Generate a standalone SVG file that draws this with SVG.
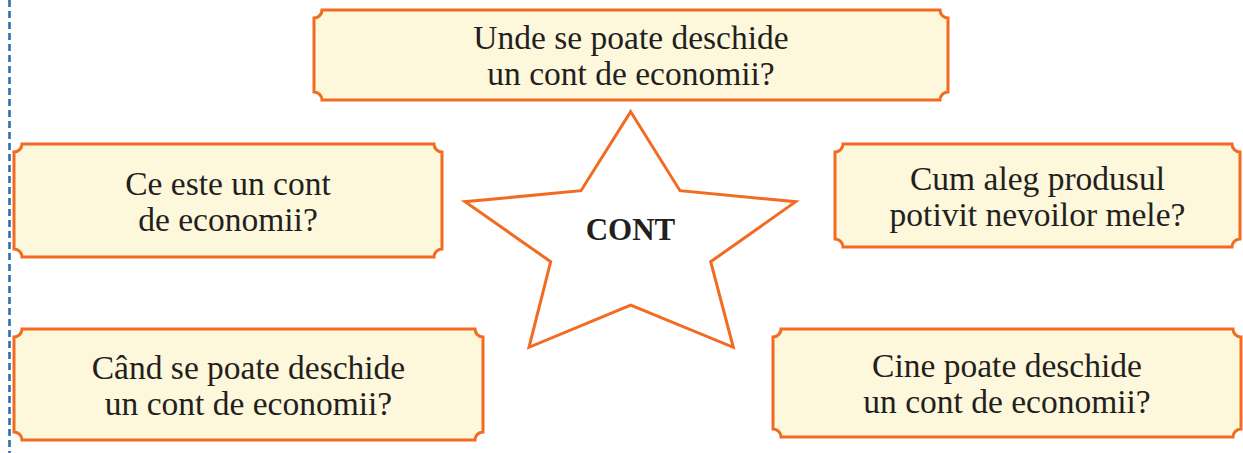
<svg xmlns="http://www.w3.org/2000/svg" width="1243" height="453" viewBox="0 0 1243 453">
<style>
.box{fill:#FDF7DB;stroke:#F26B21;stroke-width:3}
.star{fill:#FFFFFF;stroke:#F26B21;stroke-width:3;stroke-linejoin:miter}
.t{font-family:"Liberation Serif","Times New Roman",serif;font-size:33.5px;fill:#231F20;text-anchor:middle}
.c{font-family:"Liberation Serif","Times New Roman",serif;font-size:31px;font-weight:bold;fill:#231F20;text-anchor:middle}
.dash{stroke:#2C6FAE;stroke-width:2.6;stroke-dasharray:7 4;fill:none}
</style>
<rect width="1243" height="453" fill="#FFFFFF"/>
<line class="dash" x1="9.5" y1="0" x2="9.5" y2="453"/>
<g id="connectors"/>
<g id="node-top">
<path class="box" d="M322,10 H940 A8,8 0 0 0 948,18 V92 A8,8 0 0 0 940,100 H322 A8,8 0 0 0 314,92 V18 A8,8 0 0 0 322,10 Z"/>
<text class="t" x="631" y="49">Unde se poate deschide</text>
<text class="t" x="631" y="85">un cont de economii?</text>
</g>
<g id="node-left-mid">
<path class="box" d="M22,144 H434 A8,8 0 0 0 442,152 V249 A8,8 0 0 0 434,257 H22 A8,8 0 0 0 14,249 V152 A8,8 0 0 0 22,144 Z"/>
<text class="t" x="228" y="194.5">Ce este un cont</text>
<text class="t" x="228" y="230.5">de economii?</text>
</g>
<g id="node-right-mid">
<path class="box" d="M843,144 H1232 A8,8 0 0 0 1240,152 V239 A8,8 0 0 0 1232,247 H843 A8,8 0 0 0 835,239 V152 A8,8 0 0 0 843,144 Z"/>
<text class="t" x="1037.5" y="189.5">Cum aleg produsul</text>
<text class="t" x="1037.5" y="225.5">potivit nevoilor mele?</text>
</g>
<g id="node-bottom-left">
<path class="box" d="M22,329 H475 A8,8 0 0 0 483,337 V432 A8,8 0 0 0 475,440 H22 A8,8 0 0 0 14,432 V337 A8,8 0 0 0 22,329 Z"/>
<text class="t" x="248.5" y="378.5">Când se poate deschide</text>
<text class="t" x="248.5" y="414.5">un cont de economii?</text>
</g>
<g id="node-bottom-right">
<path class="box" d="M781,329 H1233 A8,8 0 0 0 1241,337 V429 A8,8 0 0 0 1233,437 H781 A8,8 0 0 0 773,429 V337 A8,8 0 0 0 781,329 Z"/>
<text class="t" x="1007" y="377">Cine poate deschide</text>
<text class="t" x="1007" y="413">un cont de economii?</text>
</g>
<g id="node-star">
<polygon class="star" points="630.7,111.7 680,190.7 795.7,201.7 710.7,261.7 733.3,347.3 630.7,305 529,347.3 550.7,261.7 465,201.7 581,190.7"/>
<text class="c" x="630.5" y="240">CONT</text>
</g>
</svg>
